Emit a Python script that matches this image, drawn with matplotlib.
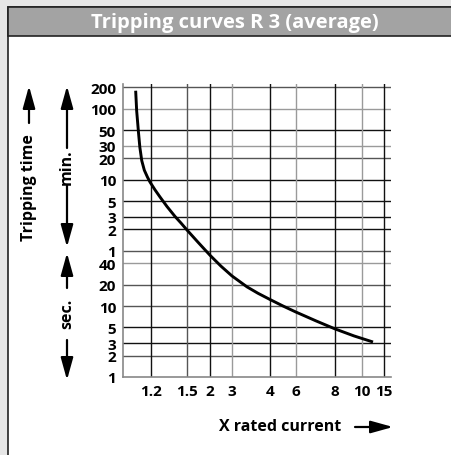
import numpy as np
import matplotlib
matplotlib.use("Agg")
import matplotlib.pyplot as plt
from matplotlib.patches import Rectangle, FancyArrowPatch

plt.rcParams['font.family'] = ['Open Sans', 'DejaVu Sans']
plt.rcParams['font.weight'] = 'bold'

# data: tripping curve (x rated current, time in seconds)
rated_current = [1.086, 1.093, 1.101, 1.106, 1.116, 1.130, 1.149, 1.173, 1.192,
                 1.230, 1.269, 1.325, 1.393, 1.445, 1.500, 1.721, 1.855, 2.000,
                 2.449, 3.000, 3.361, 3.653, 4.000, 4.899, 6.000, 6.954, 8.000,
                 9.36, 12.25]
trip_time_s = [10775, 5632, 3659, 2796, 1719, 1113, 818, 652, 558,
               433, 343, 252, 182.2, 147.6, 117.6, 79.2, 64.1, 51.9,
               36.4, 26.5, 18.6, 15.1, 12.35, 10.0, 8.21, 6.17, 4.76,
               3.79, 3.11]

# axis ticks
x_ticks = [1.2, 1.5, 2, 3, 4, 6, 8, 10, 15]
x_tick_labels = ['1.2', '1.5', '2', '3', '4', '6', '8', '10', '15']
y_ticks_s = [12000, 6000, 3000, 1800, 1200, 600, 300, 180, 120, 60,
             40, 20, 10, 5, 3, 2, 1]
y_tick_labels = ['200', '100', '50', '30', '20', '10', '5', '3', '2', '1',
                 '40', '20', '10', '5', '3', '2', '1']

# the printed x axis is not uniform: value -> grid position
x_layout_vals = [1.0, 1.2, 1.5, 2, 3, 4, 6, 8, 10, 15, 16.5]
x_layout_pos = [0, 28, 64, 87, 109, 147, 173, 212, 239, 261, 268]

BLACK = '#111111'
DARK = '#555555'
LIGHT = '#9a9a9a'
y_grid_colors = [DARK, LIGHT, BLACK, LIGHT, DARK, BLACK, BLACK, BLACK, BLACK, DARK,
                 LIGHT, DARK, DARK, BLACK, BLACK, DARK]
x_grid_colors = [BLACK, DARK, BLACK, LIGHT, BLACK, LIGHT, BLACK, LIGHT, BLACK]

W, H = 452, 456
fig = plt.figure(figsize=(W / 100, H / 100), dpi=100)
fig.patch.set_facecolor('#e6e6e6')


def fx(px):
    return px / W


def fy(py):
    return 1 - py / H


# panel and title bar
fig.add_artist(Rectangle((fx(8), -0.1), 1, fy(8) + 0.1, transform=fig.transFigure,
                         facecolor='white', edgecolor='#222222', lw=1.2, zorder=-10))
fig.add_artist(Rectangle((fx(8), fy(37)), 1, fy(8) - fy(37), transform=fig.transFigure,
                         facecolor='#a3a3a3', edgecolor='#222222', lw=1.2, zorder=-9))
fig.text(fx(235), fy(23), 'Tripping curves R 3 (average)', color='white',
         fontsize=14.5, fontweight='bold', ha='center', va='center')

ax = fig.add_axes([fx(123), fy(378), fx(391) - fx(123), fy(85) - fy(378)])
ax.patch.set_alpha(0)

lv = np.log(x_layout_vals)


def fwd(x):
    x = np.clip(np.asarray(x, dtype=float), 1e-6, None)
    return np.interp(np.log(x), lv, x_layout_pos)


def inv(p):
    return np.exp(np.interp(np.asarray(p, dtype=float), x_layout_pos, lv))


ax.set_xscale('function', functions=(fwd, inv))
ax.set_yscale('log')
ax.set_xlim(1.0, 16.5)
ax.set_ylim(1, 13400)

for v, c in zip(y_ticks_s[:-1], y_grid_colors):
    ax.axhline(v, color=c, lw=1.0, zorder=1)
for v, c in zip(x_ticks, x_grid_colors):
    ax.axvline(v, color=c, lw=1.0, zorder=1)

ax.plot(rated_current, trip_time_s, color='black', lw=2.1, zorder=3,
        solid_capstyle='butt', solid_joinstyle='round')

for s in ['top', 'right']:
    ax.spines[s].set_visible(False)
for s in ['left', 'bottom']:
    ax.spines[s].set_color('#888888')
    ax.spines[s].set_linewidth(1.2)

ax.set_xticks(x_ticks)
ax.set_xticklabels(x_tick_labels)
ax.set_yticks(y_ticks_s)
ax.set_yticklabels(y_tick_labels)
ax.minorticks_off()
ax.tick_params(axis='both', length=0, labelsize=11)
ax.tick_params(axis='y', pad=5)
ax.tick_params(axis='x', pad=5)
for lab in ax.get_xticklabels() + ax.get_yticklabels():
    lab.set_fontweight('bold')

# x axis title with arrow
fig.text(fx(280), fy(427), 'X rated current', fontsize=11.5, fontweight='bold',
         ha='center', va='center')

ARROW = '-|>,head_length=0.9,head_width=0.25'


def arrow(x0, y0, x1, y1):
    fig.add_artist(FancyArrowPatch(
        (fx(x0), fy(y0)), (fx(x1), fy(y1)), transform=fig.transFigure,
        arrowstyle=ARROW, color='black', lw=1.6, mutation_scale=15,
        shrinkA=0, shrinkB=0))


arrow(355, 428, 393, 428)

# left side labels
fig.text(fx(29), fy(188), 'Tripping time', rotation=90, fontsize=11.5,
         fontweight='bold', ha='center', va='center')
arrow(29, 124, 29, 87)
fig.text(fx(67), fy(167), 'min.', rotation=90, fontsize=11.5,
         fontweight='bold', ha='center', va='center')
arrow(67, 149, 67, 87)
arrow(67, 186, 67, 248)
fig.text(fx(67), fy(314), 'sec.', rotation=90, fontsize=11.5,
         fontweight='bold', ha='center', va='center')
arrow(67, 289, 67, 254)
arrow(67, 341, 67, 381)

fig.savefig('out.png', dpi=100, facecolor=fig.get_facecolor())
